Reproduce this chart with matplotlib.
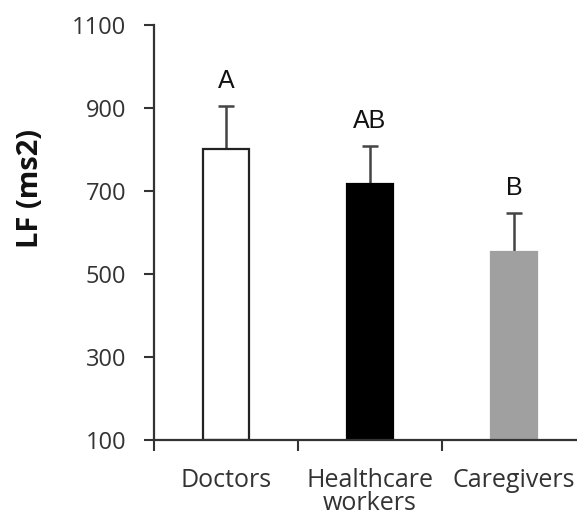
import matplotlib
matplotlib.use("Agg")
import matplotlib.pyplot as plt
from matplotlib.ticker import FixedLocator, NullFormatter

categories = ["Doctors", "Healthcare\nworkers", "Caregivers"]
means = [801, 717, 553]
upper_err = [104, 91, 94]
letters = ["A", "AB", "B"]
yticks = [100, 300, 500, 700, 900, 1100]

plt.rcParams['font.family'] = ['Open Sans', 'DejaVu Sans']

fig = plt.figure(figsize=(5.77, 5.26), dpi=100)
ax = fig.add_axes([154/577, 86/526, 432/577, 415/526])

x = list(range(len(categories)))
face = ["white", "black", "#a0a0a0"]
edge = ["#222222", "black", "#a0a0a0"]
ax.bar(x, [m - 100 for m in means], bottom=100, width=0.32, color=face,
       edgecolor=edge, linewidth=1.6, zorder=2)
ax.errorbar(x, means, yerr=[[0]*3, upper_err], fmt="none", ecolor="#444444",
            elinewidth=1.8, capsize=6, capthick=1.8, zorder=1)
for xi, m, e, t in zip(x, means, upper_err, letters):
    ax.text(xi, m + e + 32, t, ha="center", va="bottom", fontsize=18,
            color="#111111", family=["Liberation Sans", "DejaVu Sans"])

ax.set_xlim(-0.5, 2.5)
ax.set_ylim(100, 1100)
ax.set_yticks(yticks)
ax.set_yticklabels([str(v) for v in yticks], fontsize=17, color="#333333")
ax.tick_params(axis="y", direction="out", length=7, width=1.5, color="#333333", pad=13)

ax.xaxis.set_major_locator(FixedLocator([-0.5, 0.5, 1.5, 2.5]))
ax.xaxis.set_major_formatter(NullFormatter())
ax.xaxis.set_minor_locator(FixedLocator(x))
ax.set_xticklabels(categories, minor=True, fontsize=18, color="#333333",
                   linespacing=0.9)
ax.tick_params(axis="x", which="major", direction="out", length=8, width=1.5, color="#333333")
ax.tick_params(axis="x", which="minor", length=0, pad=20)

for s in ["top", "right"]:
    ax.spines[s].set_visible(False)
for s in ["left", "bottom"]:
    ax.spines[s].set_linewidth(1.6)
    ax.spines[s].set_color("#333333")

fig.text(30/577, 1 - 188/526, "LF (ms2)", rotation=90, ha="center", va="center",
         fontsize=21, fontweight="bold", color="#111111")

fig.savefig("out.png", dpi=100)
